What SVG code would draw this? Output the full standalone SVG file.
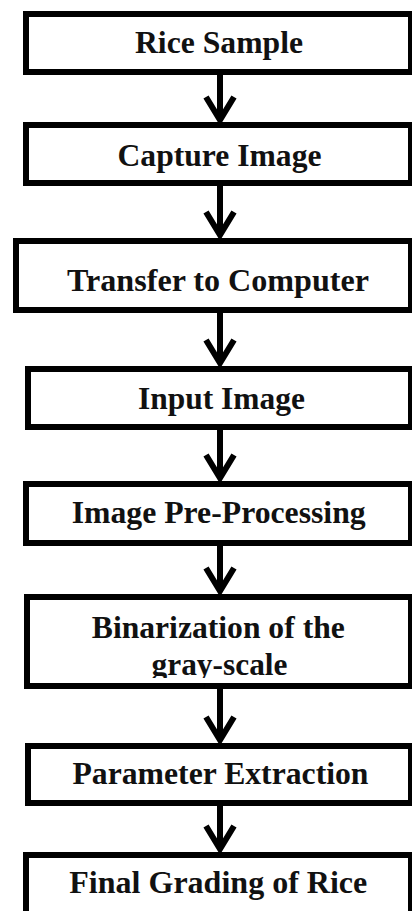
<svg xmlns="http://www.w3.org/2000/svg" width="412" height="911" viewBox="0 0 412 911">
<style>
.box{fill:#fff;stroke:#000;stroke-width:6}
.lbl{font-family:"Liberation Serif","Times New Roman",serif;font-weight:bold;font-size:31px;fill:#111;text-anchor:middle}
.conn{stroke:#000;stroke-width:6;fill:none;marker-end:url(#head)}
</style>
<defs>
<marker id="head" markerUnits="userSpaceOnUse" orient="auto" refX="0" refY="0" markerWidth="40" markerHeight="40" overflow="visible">
<path d="M-23,-14 L0,0 L-23,14" fill="none" stroke="#000" stroke-width="6" stroke-linejoin="miter"/>
</marker>
<clipPath id="clip6"><rect x="0" y="590" width="412" height="88"/></clipPath>
</defs>
<rect width="412" height="911" fill="#fff"/>
<g id="connectors">
<line class="conn" x1="220" y1="75" x2="220" y2="120"/>
<line class="conn" x1="220" y1="186" x2="220" y2="235"/>
<line class="conn" x1="220" y1="313" x2="220" y2="363"/>
<line class="conn" x1="220" y1="430" x2="220" y2="478"/>
<line class="conn" x1="220" y1="546" x2="220" y2="591"/>
<line class="conn" x1="220" y1="689" x2="220" y2="740"/>
<line class="conn" x1="220" y1="806" x2="220" y2="849"/>
</g>
<g id="n1"><rect class="box" x="26" y="14" width="385" height="58"/><text class="lbl" x="219" y="53" textLength="168" lengthAdjust="spacingAndGlyphs">Rice Sample</text></g>
<g id="n2"><rect class="box" x="26" y="125" width="385" height="58"/><text class="lbl" x="219.5" y="166" textLength="204" lengthAdjust="spacingAndGlyphs">Capture Image</text></g>
<g id="n3"><rect class="box" x="16" y="241" width="395" height="69"/><text class="lbl" x="218" y="291" textLength="302" lengthAdjust="spacingAndGlyphs">Transfer to Computer</text></g>
<g id="n4"><rect class="box" x="28" y="369" width="383" height="58"/><text class="lbl" x="221.5" y="409" textLength="167" lengthAdjust="spacingAndGlyphs">Input Image</text></g>
<g id="n5"><rect class="box" x="26" y="484" width="385" height="59"/><text class="lbl" x="218.7" y="523" textLength="294" lengthAdjust="spacingAndGlyphs">Image Pre-Processing</text></g>
<g id="n6"><rect class="box" x="27" y="597" width="384" height="89"/><text class="lbl" x="218.3" y="638" textLength="253" lengthAdjust="spacingAndGlyphs">Binarization of the</text><text class="lbl" x="219.5" y="675" textLength="136" lengthAdjust="spacingAndGlyphs" clip-path="url(#clip6)">gray-scale</text></g>
<g id="n7"><rect class="box" x="28" y="746" width="383" height="57"/><text class="lbl" x="220.5" y="784" textLength="296" lengthAdjust="spacingAndGlyphs">Parameter Extraction</text></g>
<g id="n8"><rect class="box" x="26" y="855" width="385" height="62"/><text class="lbl" x="218.3" y="893" textLength="298" lengthAdjust="spacingAndGlyphs">Final Grading of Rice</text></g>
</svg>
